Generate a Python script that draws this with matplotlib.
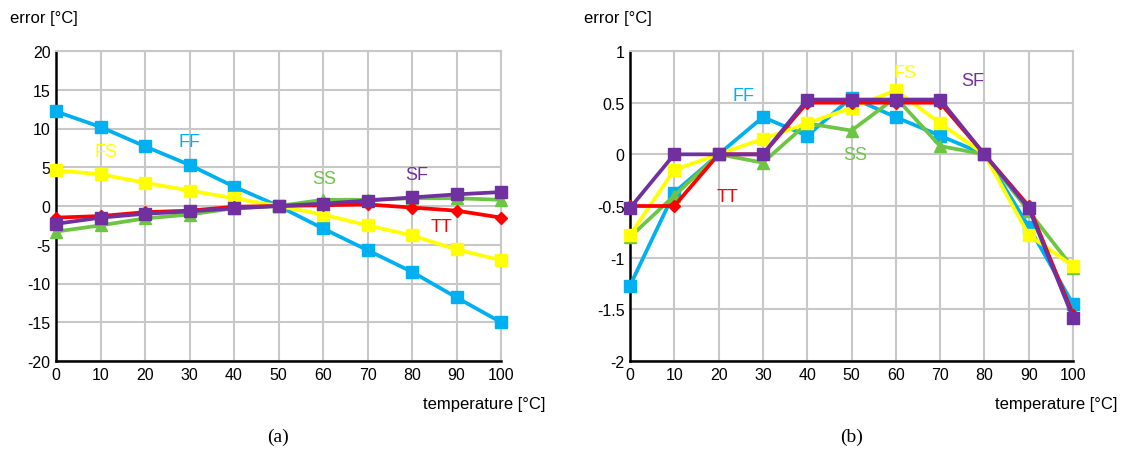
import matplotlib
matplotlib.use("Agg")
import matplotlib.pyplot as plt
from matplotlib.ticker import FuncFormatter

plt.rcParams["font.family"] = ["Liberation Sans", "DejaVu Sans"]

temps = [0, 10, 20, 30, 40, 50, 60, 70, 80, 90, 100]

# panel (a)
a_ff = [12.2, 10.2, 7.7, 5.3, 2.5, 0, -2.9, -5.7, -8.5, -11.8, -15.0]
a_fs = [4.6, 4.1, 3.0, 2.0, 1.0, 0, -1.1, -2.5, -3.8, -5.6, -7.0]
a_tt = [-1.5, -1.3, -0.8, -0.6, -0.1, 0, 0.1, 0.2, -0.2, -0.6, -1.5]
a_ss = [-3.3, -2.5, -1.6, -1.1, -0.3, 0, 0.8, 0.8, 1.0, 1.0, 0.8]
a_sf = [-2.3, -1.5, -1.0, -0.7, -0.3, 0, 0.3, 0.7, 1.1, 1.5, 1.8]

# panel (b)
b_ff = [-1.27, -0.37, 0, 0.36, 0.18, 0.55, 0.36, 0.18, 0, -0.70, -1.45]
b_fs = [-0.78, -0.15, 0, 0.15, 0.30, 0.45, 0.62, 0.30, 0, -0.78, -1.08]
b_tt = [-0.50, -0.50, 0, 0, 0.50, 0.50, 0.50, 0.50, 0, -0.50, -1.55]
b_ss = [-0.80, -0.40, 0, -0.08, 0.30, 0.23, 0.55, 0.08, 0, -0.55, -1.10]
b_sf = [-0.52, 0, 0, 0, 0.53, 0.53, 0.53, 0.53, 0, -0.52, -1.58]

colors = {"FF": "#00b0f0", "FS": "#ffff00", "TT": "#ff0000", "SS": "#6cc644", "SF": "#7030a0"}
markers = {"FF": "s", "FS": "s", "TT": "D", "SS": "^", "SF": "s"}
msizes = {"FF": 9, "FS": 9, "TT": 6.5, "SS": 9, "SF": 9}

# label positions (data coords)
a_labels = {"FF": (30, 8.3), "FS": (11.2, 7.0), "SS": (60.2, 3.5), "SF": (81, 4.1), "TT": (86.7, -2.6)}
b_labels = {"FF": (25.7, 0.57), "FS": (62, 0.79), "SF": (77.4, 0.71), "SS": (50.8, 0.0), "TT": (22, -0.41)}

fig = plt.figure(figsize=(11.24, 4.56), dpi=100)
W, H = 1124, 456
ax1 = fig.add_axes([56 / W, 1 - 362 / H, (501 - 56) / W, (362 - 52) / H])
ax2 = fig.add_axes([630 / W, 1 - 362 / H, (1073 - 630) / W, (362 - 52) / H])


def draw(ax, data, labels, ylim, yticks, letter, left_px, right_px):
    order = ["FF", "SS", "FS", "TT", "SF"]
    for n in order:
        ax.plot(temps, data[n], color=colors[n], lw=2.7, marker=markers[n],
                ms=msizes[n], mec=colors[n], clip_on=False, zorder=3)
    for n, (x, y) in labels.items():
        ax.text(x, y, n, color=colors[n], fontsize=13, ha="center", va="center")
    ax.set_xlim(0, 100)
    ax.set_ylim(*ylim)
    ax.set_xticks(temps)
    ax.set_yticks(yticks)
    ax.yaxis.set_major_formatter(FuncFormatter(lambda v, p: "%g" % v))
    ax.grid(True, color="#c8c8c8", lw=1.5)
    ax.set_axisbelow(True)
    ax.tick_params(length=0, labelsize=11.5, pad=4)
    ax.spines["top"].set_color("#c8c8c8")
    ax.spines["right"].set_color("#c8c8c8")
    ax.spines["top"].set_linewidth(1.5)
    ax.spines["right"].set_linewidth(1.5)
    ax.spines["left"].set_linewidth(1.8)
    ax.spines["bottom"].set_linewidth(1.8)
    fig.text((left_px - 46) / W, 1 - 18 / H, "error [°C]", fontsize=12, ha="left", va="center")
    fig.text((right_px + 44) / W, 1 - 405 / H, "temperature [°C]", fontsize=12, ha="right", va="center")
    fig.text((left_px + right_px) / 2 / W, 1 - 437 / H, letter, fontsize=14,
             family=["Liberation Serif", "DejaVu Serif"], ha="center", va="center")


draw(ax1, {"FF": a_ff, "FS": a_fs, "TT": a_tt, "SS": a_ss, "SF": a_sf}, a_labels,
     (-20, 20), [-20, -15, -10, -5, 0, 5, 10, 15, 20], "(a)", 56, 501)
draw(ax2, {"FF": b_ff, "FS": b_fs, "TT": b_tt, "SS": b_ss, "SF": b_sf}, b_labels,
     (-2, 1), [-2, -1.5, -1, -0.5, 0, 0.5, 1], "(b)", 630, 1073)

fig.savefig("out.png", dpi=100)
